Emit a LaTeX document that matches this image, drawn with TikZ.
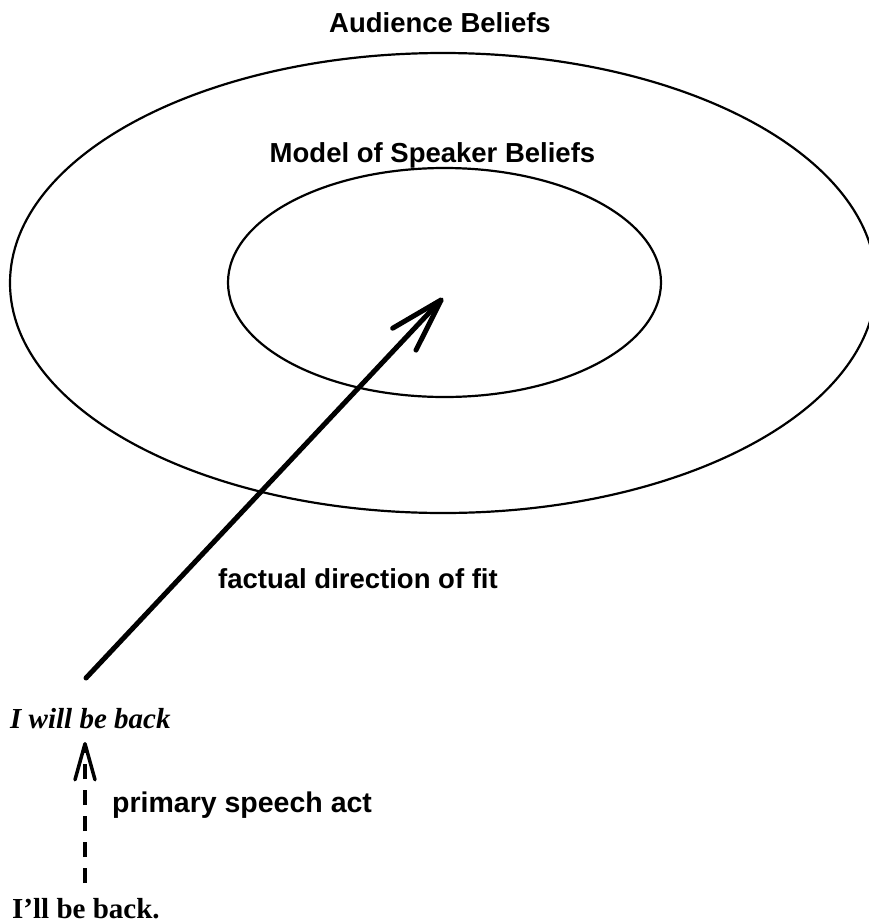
\documentclass[tikz,border=0pt]{standalone}
\usepackage{fontspec}
\setmainfont{Liberation Sans}
\newfontfamily\seriffont{Liberation Serif}
\usetikzlibrary{shapes.geometric,arrows.meta}
\tikzset{
  region/.style={draw, ellipse, line width=2.2pt, inner sep=0pt, outer sep=0pt},
  sanslabel/.style={inner sep=0pt, font=\fontsize{27.5}{30}\selectfont\bfseries},
  seriflabel/.style={inner sep=0pt, font=\fontsize{29}{32}\seriffont\bfseries},
  fitarrow/.style={line width=5pt, line cap=round,
    -{Straight Barb[length=54pt, width=32pt, line width=0pt 1, round]}},
  actarrow/.style={line width=3.5pt, dash pattern=on 15pt off 11pt,
    -{Straight Barb[length=36pt, width=20pt, line width=0pt 1, round]}}
}
\begin{document}
\begin{tikzpicture}[x=1pt, y=1pt]
\useasboundingbox (0,0) rectangle (869,-924);
% ellipses
\node[region, minimum width=866pt, minimum height=460pt] (outer) at (443,-283) {};
\node[region, minimum width=433pt, minimum height=229pt] (inner) at (444.5,-282.5) {};
% labels
\node[sanslabel, anchor=base] (audience) at (440,-32) {Audience Beliefs};
\node[sanslabel, anchor=base] (model) at (432.5,-162) {Model of Speaker Beliefs};
\node[sanslabel, anchor=base west] (factual) at (218,-588) {factual direction of fit};
\node[sanslabel, anchor=base west, font=\fontsize{28.5}{30}\selectfont\bfseries] (primary) at (112,-812) {primary speech act};
\node[seriflabel, anchor=base west, font=\fontsize{29}{32}\seriffont\bfseries\itshape] (iwill) at (10,-728) {I will be back};
\node[seriflabel, anchor=base west, font=\fontsize{29}{32}\seriffont\bfseries] (illback) at (12,-918) {I’ll be back.};
% connectors
\coordinate (tail) at (86,-678);
\coordinate (head) at (443,-298);
\draw[fitarrow] (tail) -- (head);
\coordinate (dstart) at (85,-883);
\coordinate (dend) at (85,-742);
\draw[actarrow] (dstart) -- (dend);
\end{tikzpicture}
\end{document}
